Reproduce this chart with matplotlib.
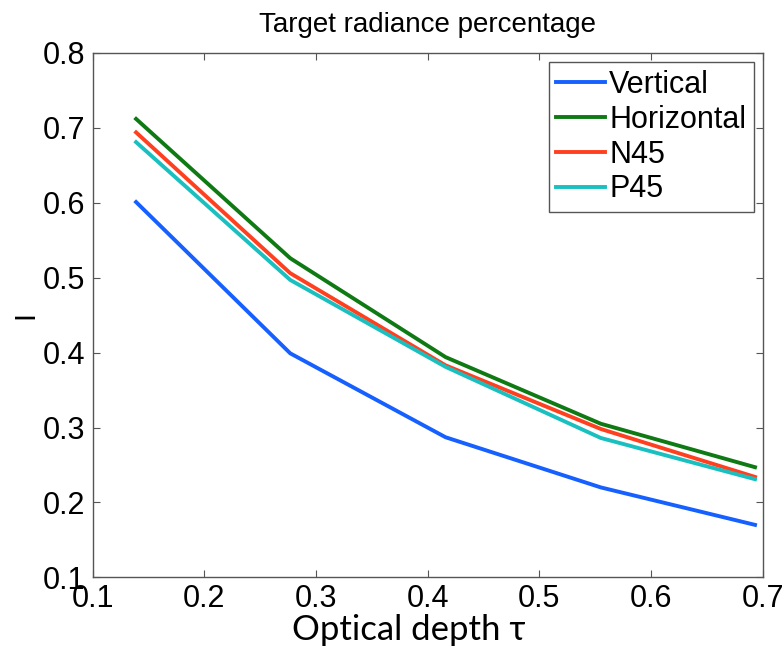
import matplotlib
matplotlib.use('Agg')
import matplotlib.pyplot as plt

# 数据
tau = [0.139, 0.277, 0.416, 0.555, 0.693]
vertical = [0.601, 0.399, 0.287, 0.220, 0.170]
horizontal = [0.712, 0.526, 0.394, 0.305, 0.247]
n45 = [0.694, 0.506, 0.383, 0.298, 0.234]
p45 = [0.681, 0.497, 0.381, 0.286, 0.231]

labels = ['Vertical', 'Horizontal', 'N45', 'P45']
colors = ['#1560ff', '#0f7a14', '#ff4020', '#1ac0c0']

plt.rcParams['font.family'] = ['Liberation Sans', 'DejaVu Sans']

fig = plt.figure(figsize=(7.84, 6.6), dpi=100)
ax = fig.add_axes([0.118, 0.1253, 0.855, 0.7944])

for ys, lab, c in zip([vertical, horizontal, n45, p45], labels, colors):
    ax.plot(tau, ys, color=c, lw=2.8, label=lab)

ax.set_xlim(0.1, 0.7)
ax.set_ylim(0.1, 0.8)
ax.set_xticks([0.1, 0.2, 0.3, 0.4, 0.5, 0.6, 0.7])
ax.set_yticks([0.1, 0.2, 0.3, 0.4, 0.5, 0.6, 0.7, 0.8])
ax.tick_params(direction='in', length=5, width=0.8, color='#555555',
               top=True, right=True, labelsize=22, pad=5)
for s in ax.spines.values():
    s.set_color('#555555')
    s.set_linewidth(1.0)

ax.set_title('Target radiance percentage', fontsize=20, pad=15)
ax.set_ylabel('I', fontsize=21)
ax.yaxis.set_label_coords(-0.08, 0.5)
ax.set_xlabel('Optical depth τ', fontsize=25, family=['Lato', 'DejaVu Sans'])
ax.xaxis.set_label_coords(0.472, -0.07)

leg = ax.legend(loc='upper right', fontsize=22, handlelength=1.6, handletextpad=0.12,
                labelspacing=0.16, borderpad=0.25, borderaxespad=0.3,
                fancybox=False, framealpha=1)
leg.get_frame().set_edgecolor('#555555')
leg.get_frame().set_linewidth(1.0)

plt.savefig('out.png', dpi=100)
